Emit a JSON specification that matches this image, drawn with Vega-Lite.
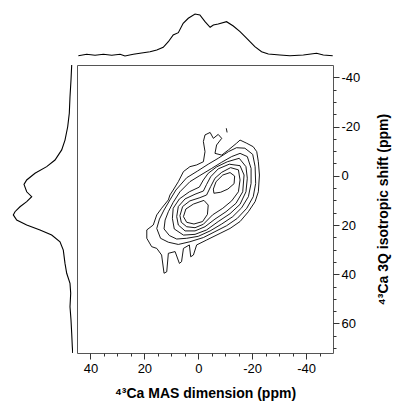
{
"$schema": "https://vega.github.io/schema/vega-lite/v6.json",
"config": {"view": {"stroke": null}, "font": "Liberation Sans"},
"datasets": {
"top": [{"x":44.5,"i":1.3},{"x":41.4,"i":2.7},{"x":38.3,"i":1.7},{"x":35.2,"i":2.7},{"x":32.1,"i":1.7},{"x":29,"i":2.7},{"x":27.2,"i":1},{"x":24.1,"i":2.7},{"x":20.4,"i":4.3},{"x":17.9,"i":5.3},{"x":15.4,"i":7},{"x":13,"i":9.7},{"x":11.1,"i":15.3},{"x":9.3,"i":22},{"x":7.4,"i":24.3},{"x":5.6,"i":33.7},{"x":3.7,"i":38.7},{"x":1.2,"i":43},{"x":-0.6,"i":42},{"x":-2.5,"i":35.3},{"x":-4.4,"i":29.7},{"x":-5.6,"i":32},{"x":-7.4,"i":33},{"x":-10.5,"i":35.3},{"x":-13,"i":31},{"x":-15.5,"i":25.3},{"x":-18,"i":18.7},{"x":-21,"i":10.3},{"x":-23.5,"i":5.3},{"x":-26,"i":3},{"x":-30.3,"i":2},{"x":-34,"i":1.3},{"x":-39,"i":2},{"x":-43.9,"i":3.7},{"x":-46.4,"i":2},{"x":-49.9,"i":1.3}],
"left": [{"y":-45,"i":1.3},{"y":-38.9,"i":2},{"y":-32.1,"i":3},{"y":-25.4,"i":3.7},{"y":-19.9,"i":5.3},{"y":-14.5,"i":8},{"y":-10.5,"i":11.3},{"y":-6.4,"i":18},{"y":-3.7,"i":26.3},{"y":-1,"i":38},{"y":1.7,"i":46.3},{"y":3.5,"i":49},{"y":6.5,"i":46.3},{"y":8.5,"i":41.3},{"y":10.5,"i":46.3},{"y":12.6,"i":53},{"y":14.6,"i":58},{"y":15.9,"i":59.7},{"y":18,"i":56.3},{"y":20,"i":46.3},{"y":22,"i":33},{"y":24.1,"i":21.3},{"y":26.8,"i":13},{"y":30.2,"i":9.7},{"y":35.6,"i":8},{"y":39.6,"i":6.3},{"y":43.7,"i":3},{"y":47.7,"i":2.3},{"y":53.2,"i":3},{"y":58.6,"i":2},{"y":64,"i":1.3},{"y":69.4,"i":0.7},{"y":72,"i":0.3}],
"cont": [
{"c":1,"o":1,"x":-2.5,"y":-16.6},{"c":1,"o":2,"x":-4.4,"y":-17.6},{"c":1,"o":3,"x":-5.6,"y":-15.2},{"c":1,"o":4,"x":-7.4,"y":-16.8},{"c":1,"o":5,"x":-8.7,"y":-15.2},{"c":1,"o":6,"x":-6.8,"y":-12.5},{"c":1,"o":7,"x":-6.2,"y":-9.1},{"c":1,"o":8,"x":-8.7,"y":-8.4},{"c":1,"o":9,"x":-11.2,"y":-10.5},{"c":1,"o":10,"x":-14.2,"y":-13.2},{"c":1,"o":11,"x":-15.5,"y":-14.5},{"c":1,"o":12,"x":-18,"y":-13.2},{"c":1,"o":13,"x":-20.4,"y":-11.8},{"c":1,"o":14,"x":-21.7,"y":-9.8},{"c":1,"o":15,"x":-22.3,"y":-5.7},{"c":1,"o":16,"x":-22.7,"y":-0.3},{"c":1,"o":17,"x":-22.3,"y":6.5},{"c":1,"o":18,"x":-21.1,"y":10.5},{"c":1,"o":19,"x":-18.6,"y":14.6},{"c":1,"o":20,"x":-15.5,"y":18.6},{"c":1,"o":21,"x":-11.8,"y":21.4},{"c":1,"o":22,"x":-8.1,"y":23.4},{"c":1,"o":23,"x":-3.1,"y":26.1},{"c":1,"o":24,"x":0.6,"y":28.1},{"c":1,"o":25,"x":1.8,"y":32.2},{"c":1,"o":26,"x":2.8,"y":32.9},{"c":1,"o":27,"x":3.3,"y":28.1},{"c":1,"o":28,"x":5.5,"y":29.5},{"c":1,"o":29,"x":6.2,"y":34.9},{"c":1,"o":30,"x":7,"y":35.6},{"c":1,"o":31,"x":8.6,"y":30.8},{"c":1,"o":32,"x":11.1,"y":31.5},{"c":1,"o":33,"x":11.7,"y":39},{"c":1,"o":34,"x":12.7,"y":39.6},{"c":1,"o":35,"x":13.6,"y":32.2},{"c":1,"o":36,"x":15.4,"y":29.5},{"c":1,"o":37,"x":17.3,"y":28.8},{"c":1,"o":38,"x":19.1,"y":25.4},{"c":1,"o":39,"x":19.1,"y":22},{"c":1,"o":40,"x":16.7,"y":20},{"c":1,"o":41,"x":15.4,"y":15.9},{"c":1,"o":42,"x":13.6,"y":13.2},{"c":1,"o":43,"x":11.1,"y":9.8},{"c":1,"o":44,"x":10.5,"y":7.8},{"c":1,"o":45,"x":9.3,"y":5.8},{"c":1,"o":46,"x":7.4,"y":2.4},{"c":1,"o":47,"x":5.5,"y":-1.7},{"c":1,"o":48,"x":3.1,"y":-3.7},{"c":1,"o":49,"x":0.6,"y":-4.4},{"c":1,"o":50,"x":-1.9,"y":-5.7},{"c":1,"o":51,"x":-2.5,"y":-9.8},{"c":1,"o":52,"x":-1.9,"y":-13.9},{"c":1,"o":53,"x":-2.5,"y":-16.6},
{"c":2,"o":1,"x":8.3,"y":5.8},{"c":2,"o":2,"x":4.3,"y":0.8},{"c":2,"o":3,"x":0.3,"y":-1.9},{"c":2,"o":4,"x":-3.7,"y":-4.7},{"c":2,"o":5,"x":-7.4,"y":-7.1},{"c":2,"o":6,"x":-11.2,"y":-9.8},{"c":2,"o":7,"x":-14.2,"y":-11.4},{"c":2,"o":8,"x":-17.3,"y":-11.2},{"c":2,"o":9,"x":-20.2,"y":-8.7},{"c":2,"o":10,"x":-21.1,"y":-3.7},{"c":2,"o":11,"x":-21.3,"y":3.1},{"c":2,"o":12,"x":-20.4,"y":8.5},{"c":2,"o":13,"x":-18,"y":13.2},{"c":2,"o":14,"x":-14.5,"y":17.3},{"c":2,"o":15,"x":-10.5,"y":20.3},{"c":2,"o":16,"x":-6.2,"y":22.7},{"c":2,"o":17,"x":-1.9,"y":25.1},{"c":2,"o":18,"x":3.1,"y":26.8},{"c":2,"o":19,"x":7.4,"y":27.9},{"c":2,"o":20,"x":11.1,"y":27},{"c":2,"o":21,"x":14,"y":25.4},{"c":2,"o":22,"x":15.4,"y":21.4},{"c":2,"o":23,"x":14.4,"y":17.6},{"c":2,"o":24,"x":12.7,"y":13.9},{"c":2,"o":25,"x":10.5,"y":9.8},{"c":2,"o":26,"x":8.3,"y":5.8},
{"c":3,"o":1,"x":6.8,"y":6.5},{"c":3,"o":2,"x":3.1,"y":2.4},{"c":3,"o":3,"x":-0.6,"y":-0.1},{"c":3,"o":4,"x":-5,"y":-3},{"c":3,"o":5,"x":-8.7,"y":-5.5},{"c":3,"o":6,"x":-12.4,"y":-7.8},{"c":3,"o":7,"x":-15.5,"y":-9.1},{"c":3,"o":8,"x":-18.2,"y":-7.8},{"c":3,"o":9,"x":-19.6,"y":-3},{"c":3,"o":10,"x":-19.6,"y":3.1},{"c":3,"o":11,"x":-18.6,"y":8.5},{"c":3,"o":12,"x":-16.1,"y":13},{"c":3,"o":13,"x":-12.8,"y":16.6},{"c":3,"o":14,"x":-8.7,"y":19.6},{"c":3,"o":15,"x":-4.4,"y":22.4},{"c":3,"o":16,"x":0,"y":24.6},{"c":3,"o":17,"x":4.3,"y":25.4},{"c":3,"o":18,"x":8,"y":25.7},{"c":3,"o":19,"x":10.7,"y":24.3},{"c":3,"o":20,"x":12.7,"y":21.6},{"c":3,"o":21,"x":12.3,"y":18},{"c":3,"o":22,"x":11.1,"y":14.6},{"c":3,"o":23,"x":9.3,"y":10.8},{"c":3,"o":24,"x":6.8,"y":6.5},
{"c":4,"o":1,"x":3.3,"y":6.5},{"c":4,"o":2,"x":-0.4,"y":4.6},{"c":4,"o":3,"x":-1.9,"y":1.7},{"c":4,"o":4,"x":-3.7,"y":-1},{"c":4,"o":5,"x":-6.8,"y":-3.6},{"c":4,"o":6,"x":-10.8,"y":-5.7},{"c":4,"o":7,"x":-15.2,"y":-7.1},{"c":4,"o":8,"x":-17.7,"y":-3.7},{"c":4,"o":9,"x":-18.2,"y":1},{"c":4,"o":10,"x":-17.7,"y":6.5},{"c":4,"o":11,"x":-15.5,"y":11.6},{"c":4,"o":12,"x":-11.8,"y":15.4},{"c":4,"o":13,"x":-7.4,"y":18.6},{"c":4,"o":14,"x":-3.1,"y":22},{"c":4,"o":15,"x":1.2,"y":23.8},{"c":4,"o":16,"x":5.5,"y":24.1},{"c":4,"o":17,"x":8.9,"y":21.6},{"c":4,"o":18,"x":9.6,"y":17.3},{"c":4,"o":19,"x":9.3,"y":13.2},{"c":4,"o":20,"x":7,"y":9.4},{"c":4,"o":21,"x":3.3,"y":6.5},
{"c":5,"o":1,"x":8,"y":16.6},{"c":5,"o":2,"x":7.4,"y":12.5},{"c":5,"o":3,"x":4.9,"y":9.4},{"c":5,"o":4,"x":1.2,"y":7.5},{"c":5,"o":5,"x":-1.9,"y":6.2},{"c":5,"o":6,"x":-3.1,"y":3.5},{"c":5,"o":7,"x":-4.6,"y":0.4},{"c":5,"o":8,"x":-7.4,"y":-2.8},{"c":5,"o":9,"x":-11.5,"y":-4.7},{"c":5,"o":10,"x":-15.5,"y":-4.1},{"c":5,"o":11,"x":-17,"y":-0.3},{"c":5,"o":12,"x":-16.5,"y":6.5},{"c":5,"o":13,"x":-14,"y":11.2},{"c":5,"o":14,"x":-10.3,"y":14.6},{"c":5,"o":15,"x":-6.2,"y":17.6},{"c":5,"o":16,"x":-2.5,"y":20.7},{"c":5,"o":17,"x":1.2,"y":22.4},{"c":5,"o":18,"x":4.9,"y":22.4},{"c":5,"o":19,"x":7.4,"y":20},{"c":5,"o":20,"x":8,"y":16.6},
{"c":6,"o":1,"x":6.8,"y":16.2},{"c":6,"o":2,"x":5.8,"y":12.5},{"c":6,"o":3,"x":3.1,"y":10.2},{"c":6,"o":4,"x":-0.6,"y":8.9},{"c":6,"o":5,"x":-3.1,"y":7.8},{"c":6,"o":6,"x":-4.6,"y":4.4},{"c":6,"o":7,"x":-6.2,"y":1},{"c":6,"o":8,"x":-8.7,"y":-1.4},{"c":6,"o":9,"x":-12,"y":-3.3},{"c":6,"o":10,"x":-14.9,"y":-2.4},{"c":6,"o":11,"x":-15.5,"y":1.7},{"c":6,"o":12,"x":-14.9,"y":6.5},{"c":6,"o":13,"x":-12.4,"y":10.2},{"c":6,"o":14,"x":-9.1,"y":13.2},{"c":6,"o":15,"x":-5.3,"y":15.9},{"c":6,"o":16,"x":-1.9,"y":19.7},{"c":6,"o":17,"x":1.2,"y":21.1},{"c":6,"o":18,"x":4.3,"y":20.7},{"c":6,"o":19,"x":6.3,"y":18.9},{"c":6,"o":20,"x":6.8,"y":16.2},
{"c":7,"o":1,"x":5.5,"y":16.6},{"c":7,"o":2,"x":4.6,"y":13.5},{"c":7,"o":3,"x":1.8,"y":11.5},{"c":7,"o":4,"x":-2.1,"y":10},{"c":7,"o":5,"x":-3.7,"y":11.9},{"c":7,"o":6,"x":-3.4,"y":15.7},{"c":7,"o":7,"x":-1.6,"y":18.6},{"c":7,"o":8,"x":1.6,"y":19.6},{"c":7,"o":9,"x":4.3,"y":18.9},{"c":7,"o":10,"x":5.5,"y":16.6},
{"c":8,"o":1,"x":-5.6,"y":5.4},{"c":8,"o":2,"x":-6.6,"y":2.4},{"c":8,"o":3,"x":-9.1,"y":-0.3},{"c":8,"o":4,"x":-11.8,"y":-1.3},{"c":8,"o":5,"x":-13.5,"y":0.1},{"c":8,"o":6,"x":-13.3,"y":3.2},{"c":8,"o":7,"x":-11,"y":5.4},{"c":8,"o":8,"x":-8.3,"y":6.7},{"c":8,"o":9,"x":-5.8,"y":7.1},{"c":8,"o":10,"x":-5.6,"y":5.4},
{"c":9,"o":1,"x":-10.4,"y":-19.3},{"c":9,"o":2,"x":-10.7,"y":-17.6}
]
},
"columns": 2,
"spacing": {"row": 8, "column": 4},
"align": "each",
"bounds": "flush",
"concat": [
{"width": 68, "height": 52, "data": {"values": []}, "mark": "point", "encoding": {}},
{"width": 256, "height": 52, "data": {"name": "top"},
 "mark": {"type": "line", "stroke": "black", "strokeWidth": 1.1},
 "encoding": {
  "x": {"field": "x", "type": "quantitative", "scale": {"domain": [-50, 45], "reverse": true, "nice": false, "zero": false}, "axis": null},
  "y": {"field": "i", "type": "quantitative", "scale": {"domain": [0, 52], "nice": false}, "axis": null}
 }},
{"width": 68, "height": 288, "data": {"name": "left"},
 "mark": {"type": "line", "stroke": "black", "strokeWidth": 1.1, "clip": true},
 "encoding": {
  "x": {"field": "i", "type": "quantitative", "scale": {"domain": [0, 68], "reverse": true, "nice": false}, "axis": null},
  "y": {"field": "y", "type": "quantitative", "scale": {"domain": [-45, 72], "reverse": true, "nice": false, "zero": false}, "axis": null},
  "order": {"field": "y"}
 }},
{"width": 256, "height": 288, "data": {"name": "cont"},
 "view": {"stroke": "#555", "strokeWidth": 1},
 "mark": {"type": "line", "stroke": "black", "strokeWidth": 0.9, "clip": true},
 "encoding": {
  "x": {"field": "x", "type": "quantitative", "scale": {"domain": [-50, 45], "reverse": true, "nice": false, "zero": false},
   "axis": {"orient": "bottom", "values": [40,35,30,25,20,15,10,5,0,-5,-10,-15,-20,-25,-30,-35,-40,-45],
    "labelExpr": "datum.value % 20 === 0 ? '' + datum.value : ''",
    "tickSize": {"condition": {"test": "datum.value % 20 === 0", "value": 6}, "value": 3},
    "labelOverlap": false, "labelFontSize": 13, "labelColor": "black", "labelPadding": 3,
    "tickColor": "#333", "domain": false, "grid": false,
    "title": "⁴³Ca MAS dimension (ppm)", "titleFontSize": 14, "titleFontWeight": "bold", "titleColor": "black", "titlePadding": 11}},
  "y": {"field": "y", "type": "quantitative", "scale": {"domain": [-45, 72], "reverse": true, "nice": false, "zero": false},
   "axis": {"orient": "right", "values": [-40,-35,-30,-25,-20,-15,-10,-5,0,5,10,15,20,25,30,35,40,45,50,55,60,65,70],
    "labelExpr": "datum.value % 20 === 0 ? '' + datum.value : ''",
    "tickSize": {"condition": {"test": "datum.value % 20 === 0", "value": 6}, "value": 3},
    "labelOverlap": false, "labelFontSize": 13, "labelColor": "black", "labelPadding": 2,
    "tickColor": "#333", "domain": false, "grid": false,
    "title": "⁴³Ca 3Q isotropic shift (ppm)", "titleFontSize": 14, "titleFontWeight": "bold", "titleColor": "black",
    "titleAngle": 270, "titleBaseline": "top", "titlePadding": 17}},
  "detail": {"field": "c"},
  "order": {"field": "o"}
 }}
]
}
